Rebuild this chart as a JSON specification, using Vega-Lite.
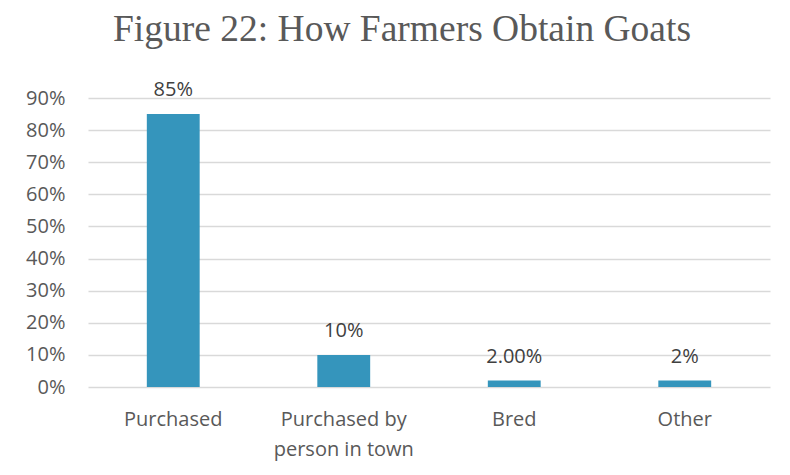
{
  "$schema": "https://vega.github.io/schema/vega-lite/v6.json",
  "width": 682,
  "height": 289,
  "autosize": {"type": "none"},
  "padding": {"left": 88, "top": 98, "right": 20, "bottom": 88},
  "background": "white",
  "title": {
    "text": "Figure 22: How Farmers Obtain Goats",
    "font": "Liberation Serif",
    "fontSize": 37.5,
    "fontWeight": "normal",
    "color": "#595959",
    "anchor": "middle",
    "dx": -27,
    "offset": 32
  },
  "data": {
    "values": [
      {"method": "Purchased", "share": 0.85, "label": "85%"},
      {"method": "Purchased by person in town", "share": 0.10, "label": "10%"},
      {"method": "Bred", "share": 0.02, "label": "2.00%"},
      {"method": "Other", "share": 0.02, "label": "2%"}
    ]
  },
  "encoding": {
    "x": {
      "field": "method",
      "type": "nominal",
      "sort": null,
      "scale": {"paddingInner": 0.69, "paddingOuter": 0.345},
      "axis": {
        "title": null,
        "labelAngle": 0,
        "labelFont": "Open Sans",
        "labelFontSize": 20,
        "labelColor": "#595959",
        "labelPadding": 22,
        "labelLineHeight": 30,
        "labelExpr": "datum.label == 'Purchased by person in town' ? ['Purchased by', 'person in town'] : datum.label",
        "domain": false,
        "ticks": false,
        "grid": false
      }
    },
    "y": {
      "field": "share",
      "type": "quantitative",
      "scale": {"domain": [0, 0.9], "nice": false},
      "axis": {
        "title": null,
        "values": [0, 0.1, 0.2, 0.3, 0.4, 0.5, 0.6, 0.7, 0.8, 0.9],
        "format": ".0%",
        "labelFont": "Open Sans",
        "labelFontSize": 20,
        "labelColor": "#595959",
        "labelPadding": 23,
        "domain": false,
        "ticks": false,
        "grid": true,
        "gridColor": "#d9d9d9",
        "gridWidth": 1.3
      }
    }
  },
  "layer": [
    {"mark": {"type": "bar", "color": "#3595BC"}},
    {
      "mark": {"type": "text", "dy": -18, "font": "Open Sans", "fontSize": 20, "color": "#404040", "baseline": "alphabetic"},
      "encoding": {"text": {"field": "label"}}
    }
  ],
  "config": {"view": {"stroke": null}}
}
